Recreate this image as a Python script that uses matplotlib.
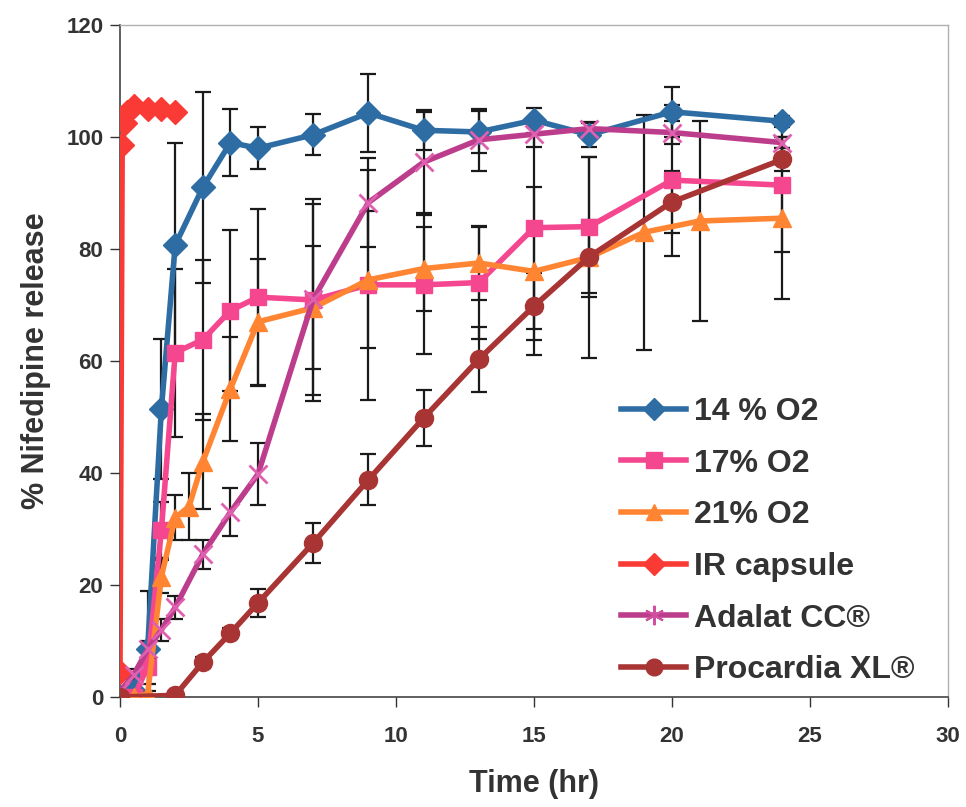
import matplotlib
matplotlib.use("Agg")
import matplotlib.pyplot as plt
from matplotlib.lines import Line2D

plt.rcParams['font.family'] = ['Liberation Sans', 'DejaVu Sans']
plt.rcParams['font.weight'] = 'bold'

# ---- data ----
t14 = [0, 0.5, 1, 1.5, 2, 3, 4, 5, 7, 9, 11, 13, 15, 17, 20, 24]
v14 = [0, 1, 8.5, 51.5, 80.7, 91, 99, 98, 100.4, 104.3, 101.2, 100.9, 103, 100.4, 104.5, 102.8]
e14 = [0, 0.5, 10.5, 12.5, 18.3, 17, 6, 3.7, 3.7, 7, 3.6, 3.8, 2.2, 2.2, 4.5, 1]

t17 = [0, 0.5, 1, 1.5, 2, 3, 4, 5, 7, 9, 11, 13, 15, 17, 20, 24]
v17 = [0, 0, 5.4, 29.8, 61.5, 63.8, 69, 71.4, 70.9, 73.6, 73.6, 74, 83.8, 84, 92.3, 91.4]
e17 = [0, 0, 3, 5, 15, 14.3, 14.4, 15.8, 18, 20.5, 12.4, 10, 18, 12.5, 13.5, 12]

t21 = [0, 0.5, 1, 1.5, 2, 2.5, 3, 4, 5, 7, 9, 11, 13, 15, 17, 19, 21, 24]
v21 = [0, 0, 0.5, 21.5, 32, 34, 42, 55, 67, 69.5, 74.5, 76.5, 77.5, 76, 78.5, 83, 85, 85.5]
e21 = [0, 0, 0.5, 3, 4, 6, 8.5, 9.3, 11.3, 11, 12.2, 7.5, 6.6, 15, 18, 21, 17.8, 14.5]

tIR = [0, 0.08, 0.17, 0.25, 0.5, 1, 1.5, 2]
vIR = [4.5, 98.5, 102.5, 104.5, 105.5, 105, 105, 104.5]

tAd = [0, 0.5, 1, 1.5, 2, 3, 4, 5, 7, 9, 11, 13, 15, 17, 20, 24]
vAd = [1, 4, 8.5, 12, 16, 25.5, 33, 39.8, 71, 88.3, 95.5, 99.5, 100.5, 101.5, 100.8, 99]
eAd = [0, 1, 1.5, 2, 2, 2.6, 4.3, 5.5, 17, 8, 9, 5.5, 2.2, 1, 2, 1]

tPr = [0, 2, 3, 4, 5, 7, 9, 11, 13, 15, 17, 20, 24]
vPr = [0, 0.3, 6.2, 11.4, 16.8, 27.5, 38.8, 49.8, 60.3, 69.8, 78.6, 88.4, 96]
ePr = [0, 0.3, 1, 1, 2.5, 3.6, 4.6, 5, 5.8, 6, 6.5, 5.6, 2]

labels = ["14 % O2", "17% O2", "21% O2", "IR capsule", "Adalat CC\u00ae", "Procardia XL\u00ae"]
colors = ['#2E6DA4', '#F5478F', '#FF8533', '#FA3B35', '#BD3D8D', '#A93434']

xticks = [0, 5, 10, 15, 20, 25, 30]
yticks = [0, 20, 40, 60, 80, 100, 120]

fig = plt.figure(figsize=(9.66, 8.07), dpi=100)
ax = fig.add_axes([120/966, 1-697/807, (948-120)/966, (697-25)/807])

series = [
    (t14, v14, e14, 'D', 12),
    (t17, v17, e17, 's', 12),
    (t21, v21, e21, '^', 13),
    (tIR, vIR, None, 'D', 12),
    (tAd, vAd, eAd, 'x', 13),
    (tPr, vPr, ePr, 'o', 13),
]

handles = []
for i, (t, v, e, m, ms) in enumerate(series):
    c = colors[i]
    if e is not None:
        ax.errorbar(t, v, yerr=e, fmt='none', ecolor='#1a1a1a', elinewidth=1.6,
                    capsize=6, capthick=1.6, zorder=2)
    if m == 'x':
        ax.plot(t, v, color=c, lw=4, marker=m, ms=ms, mew=2, mec='#E060B0', zorder=3)
    else:
        ax.plot(t, v, color=c, lw=4, marker=m, ms=ms, mec=c, zorder=3)
    if m == 'x':
        h = Line2D([], [], color=c, lw=4, marker=(6, 2, 0), ms=14, mew=1.5, mec='#D04FA0')
    else:
        h = Line2D([], [], color=c, lw=4, marker=m, ms=ms - 1, mec=c)
    handles.append(h)

ax.set_xlim(0, 30)
ax.set_ylim(0, 120)
ax.set_xticks(xticks)
ax.set_yticks(yticks)
ax.tick_params(axis='both', direction='out', length=7, width=1, labelsize=16, colors='#333333')
ax.tick_params(axis='x', pad=14)
ax.tick_params(axis='y', pad=5)
for lab in ax.get_xticklabels() + ax.get_yticklabels():
    lab.set_fontweight('bold')
    lab.set_color('#333333')

for s in ['left', 'bottom']:
    ax.spines[s].set_color('#444444')
    ax.spines[s].set_linewidth(1.2)
for s in ['top', 'right']:
    ax.spines[s].set_color('#B0B0B0')
    ax.spines[s].set_linewidth(1)

ax.set_xlabel("Time (hr)", fontsize=22, fontweight='bold', color='#333333', labelpad=16)
ax.set_ylabel("% Nifedipine release", fontsize=22, fontweight='bold', color='#333333', labelpad=11)

leg = fig.legend(handles, labels, loc='upper left', bbox_to_anchor=(608/966, 1-384/807),
                 frameon=False, fontsize=23, handlelength=2.05, handletextpad=0.25,
                 labelspacing=0.68, numpoints=1, borderaxespad=0)
for tx in leg.get_texts():
    tx.set_fontweight('bold')
    tx.set_color('#333333')

fig.savefig("out.png", dpi=100)
